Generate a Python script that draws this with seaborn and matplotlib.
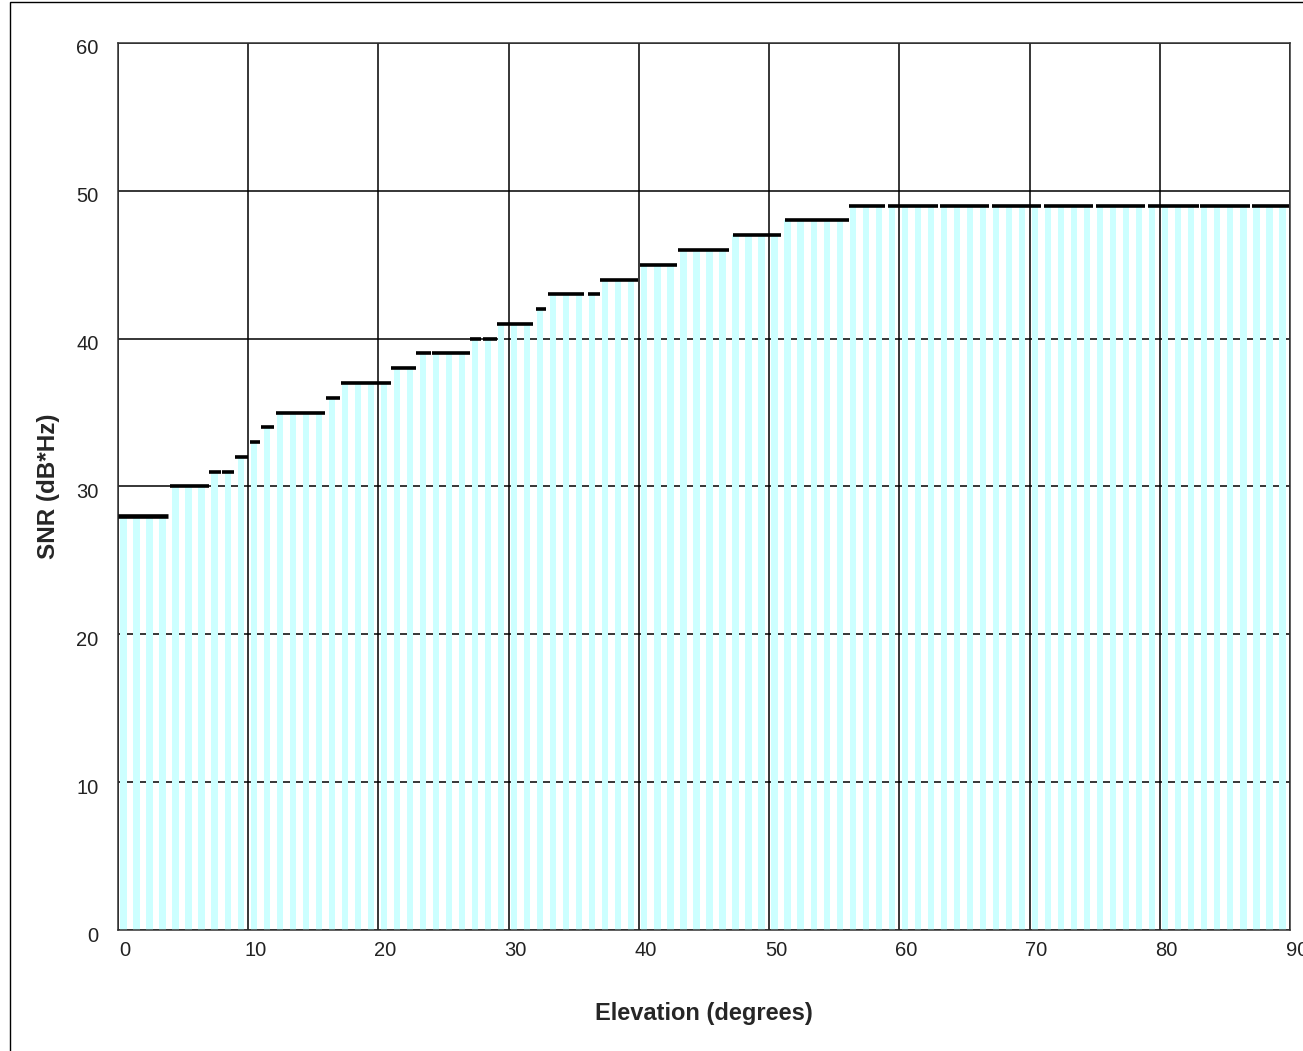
import matplotlib
matplotlib.use('Agg')
import matplotlib.pyplot as plt
import matplotlib.transforms as mtransforms
from matplotlib.patches import Rectangle
import numpy as np
import pandas as pd
import seaborn as sns

# SNR per 1-degree elevation bin (bars)
elevation = list(range(0, 90))
snr = ([28] * 4 + [30] * 3 + [31] * 2 + [32, 33, 34] + [35] * 4 + [36] + [37] * 4
       + [38] * 2 + [39] * 4 + [40] * 2 + [41] * 3 + [42] + [43] * 4 + [44] * 3
       + [45] * 3 + [46] * 4 + [47] * 4 + [48] * 5 + [49] * 34)

# black level markers drawn on top (start / end elevation, SNR)
dash_start = [0.0, 4.0, 7.0, 8.0, 9.0, 10.1, 10.95, 12.1, 16.0, 17.1, 21.0, 22.9, 24.1,
              27.0, 28.05, 29.1, 32.1, 33.0, 36.1, 37.0, 40.1, 43.0, 47.2, 51.2,
              56.1, 59.1, 63.1, 67.1, 71.1, 75.1, 79.1, 83.1, 87.1]
dash_end = [3.85, 7.0, 7.9, 8.9, 10.0, 10.9, 12.0, 15.9, 17.05, 21.0, 22.9, 24.0, 27.0,
            27.9, 29.1, 31.9, 32.9, 35.8, 37.0, 39.9, 42.9, 46.9, 50.9, 56.1,
            58.9, 63.0, 66.9, 70.9, 74.9, 78.9, 83.0, 86.9, 89.9]
dash_snr = [28, 30, 31, 31, 32, 33, 34, 35, 36, 37, 38, 39, 39,
            40, 40, 41, 42, 43, 43, 44, 45, 46, 47, 48,
            49, 49, 49, 49, 49, 49, 49, 49, 49]

x_ticks = list(range(0, 100, 10))
y_ticks = list(range(0, 70, 10))

df = pd.DataFrame({'elevation': np.array(elevation) + 0.42, 'snr': snr})

sns.set_style('white')
plt.rcParams['font.family'] = ['Liberation Sans', 'DejaVu Sans']

fig = plt.figure(figsize=(13.03, 10.51), dpi=100)
ax = fig.add_axes([118 / 1303, 1 - 930 / 1051, (1290 - 118) / 1303, (930 - 43) / 1051])

ax.set_axisbelow(True)
ax.grid(True, color='black', linewidth=1.1, linestyle='-')

sns.barplot(data=df, x='elevation', y='snr', native_scale=True, width=0.48,
            color='#CCFFFF', saturation=1, linewidth=0, errorbar=None, ax=ax)

lws = [3.3] + [2.6] * (len(dash_snr) - 1)
ax.hlines(dash_snr, dash_start, dash_end, colors='black', linewidths=lws, zorder=4)

ax.set_xlim(0, 90)
ax.set_ylim(0, 60)
ax.set_xticks(x_ticks)
ax.set_yticks(y_ticks)
ax.set_xticklabels([str(t) for t in x_ticks])
ax.set_yticklabels([str(t) for t in y_ticks])
ax.tick_params(axis='both', direction='out', length=6, width=1.1, color='black',
               labelsize=14.5, labelcolor='#222222')
ax.tick_params(axis='x', pad=2)
ax.tick_params(axis='y', pad=8)

offset = mtransforms.ScaledTranslation(7 / 100, 0, fig.dpi_scale_trans)
for lbl in ax.get_xticklabels():
    lbl.set_transform(lbl.get_transform() + offset)
yoff = mtransforms.ScaledTranslation(0, -4 / 100, fig.dpi_scale_trans)
for lbl in ax.get_yticklabels():
    lbl.set_transform(lbl.get_transform() + yoff)

for side in ['left', 'bottom', 'right', 'top']:
    ax.spines[side].set_visible(True)
    ax.spines[side].set_color('#333333')
    ax.spines[side].set_linewidth(1.1)

ax.set_xlabel('Elevation (degrees)', fontsize=17, fontweight='bold', labelpad=30)
ax.set_ylabel('SNR (dB*Hz)', fontsize=17.5, fontweight='bold', labelpad=12)

# chart area border (Excel-style)
fig.patches.append(Rectangle((10 / 1303, -0.05), 1.2, 1 - 2 / 1051 + 0.05,
                             transform=fig.transFigure, fill=False,
                             edgecolor='black', linewidth=1.0))

fig.savefig('out.png', dpi=100)
